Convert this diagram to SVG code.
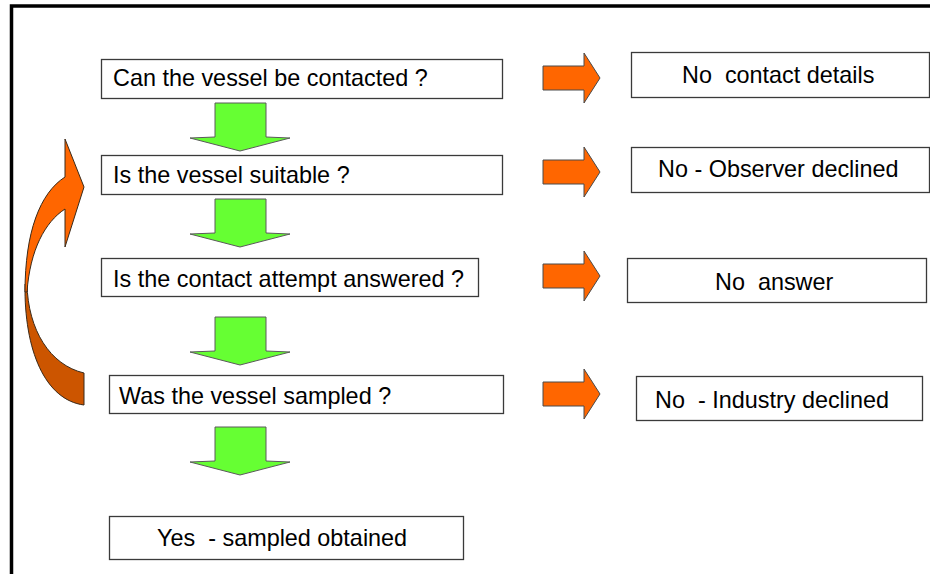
<svg xmlns="http://www.w3.org/2000/svg" xmlns:xlink="http://www.w3.org/1999/xlink" width="930" height="574" viewBox="0 0 930 574">
<style>
.box{fill:#fff;stroke:#3a3a3a;stroke-width:1.3}
.t{font-family:"Liberation Sans",Arial,sans-serif;font-size:23.4px;fill:#000;white-space:pre}
.green{fill:#66FF33;stroke:#5a5a5a;stroke-width:1}
.orange{fill:#FF6600;stroke:#4a4a4a;stroke-width:1}
</style>
<defs>
<path id="ga" d="M-25,0 L26,0 L26,34 L50,35 L0,48 L-50,35 L-25,34 Z"/>
<path id="oa" d="M0,-12 L41,-12 L41,-25 L57,0 L41,25 L41,12 L0,12 Z"/>
</defs>
<rect x="0" y="0" width="930" height="574" fill="#fff"/>
<rect id="frame" x="11.5" y="6" width="940" height="600" fill="none" stroke="#000" stroke-width="3.5"/>

<g id="q1"><rect class="box" x="101.5" y="59.5" width="401" height="39"/><text class="t" x="113" y="86">Can the vessel be contacted ?</text></g>
<g id="q2"><rect class="box" x="101.5" y="155.5" width="401" height="39"/><text class="t" x="113" y="183">Is the vessel suitable ?</text></g>
<g id="q3"><rect class="box" x="101.5" y="258.5" width="377" height="38"/><text class="t" x="113" y="287">Is the contact attempt answered ?</text></g>
<g id="q4"><rect class="box" x="109.5" y="375.5" width="394" height="38"/><text class="t" x="119" y="404">Was the vessel sampled ?</text></g>
<g id="yes"><rect class="box" x="109.5" y="516.5" width="354" height="43"/><text class="t" x="157" y="546">Yes  - sampled obtained</text></g>

<g id="r1"><rect class="box" x="631.5" y="52.5" width="298" height="45"/><text class="t" x="682" y="83">No  contact details</text></g>
<g id="r2"><rect class="box" x="631.5" y="147.5" width="298" height="45"/><text class="t" x="658" y="177">No - Observer declined</text></g>
<g id="r3"><rect class="box" x="627.5" y="258.5" width="299" height="44"/><text class="t" x="715" y="290">No  answer</text></g>
<g id="r4"><rect class="box" x="636.5" y="376.5" width="286" height="44"/><text class="t" x="655" y="408">No  - Industry declined</text></g>

<g id="connectors">
<use xlink:href="#ga" class="green" x="240" y="103"/>
<use xlink:href="#ga" class="green" x="240" y="199"/>
<use xlink:href="#ga" class="green" x="240" y="317"/>
<use xlink:href="#ga" class="green" x="240" y="427"/>
<use xlink:href="#oa" class="orange" x="543" y="78"/>
<use xlink:href="#oa" class="orange" x="543" y="172"/>
<use xlink:href="#oa" class="orange" x="543" y="276"/>
<use xlink:href="#oa" class="orange" x="543" y="394"/>
<g id="loop">
<path d="M25,284 C24,350 45,400 84,405 L84,373 C50,365 28,330 27,284 Z" fill="#CC5500" stroke="#3a2a1a" stroke-width="1"/>
<path d="M25,292 C25,232 40,193 65,177 L65,139 L84,187 L65,247 L65,209 C45,222 30,250 27,292 Z" fill="#FF6600" stroke="#3a2a1a" stroke-width="1"/>
</g>
</g>
</svg>
